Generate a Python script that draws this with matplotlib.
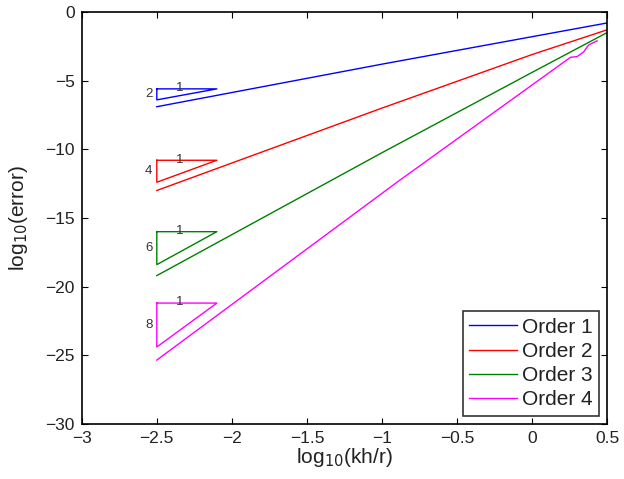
import numpy as np
import matplotlib
matplotlib.use('Agg')
import matplotlib.pyplot as plt

plt.rcParams['font.family'] = ['Liberation Sans', 'DejaVu Sans']

# log10(kh/r) sample points and log10(error) for each order
x1 = [-2.5, -1.0, 0.5]
err1 = [-6.9, -3.8, -0.8]
x2 = [-2.5, -1.0, 0.0, 0.5]
err2 = [-13.0, -7.0, -3.1, -1.3]
x3 = [-2.5, -1.0, 0.0, 0.5]
err3 = [-19.2, -10.25, -4.4, -1.5]
x4 = [-2.5, -0.9, 0.256, 0.30, 0.344, 0.377, 0.433]
err4 = [-25.35, -12.4, -3.3, -3.25, -2.9, -2.4, -2.1]

labels = ['Order 1', 'Order 2', 'Order 3', 'Order 4']
colors = ['#0000ff', '#ff0000', '#008000', '#ff00ff']

# slope triangles: rise per unit run, top edge level
orders = [2, 4, 6, 8]
tri_top = [-5.6, -10.8, -16.0, -21.2]
tri_x0 = -2.5
tri_run = 0.4

fig = plt.figure(figsize=(6.24, 4.79), dpi=100)
ax = fig.add_axes([0.131, 0.115, 0.842, 0.86])

for xs, ys, c, lab in zip([x1, x2, x3, x4], [err1, err2, err3, err4], colors, labels):
    ax.plot(xs, ys, color=c, lw=1, label=lab)

for p, top, c in zip(orders, tri_top, colors):
    bot = top - p * tri_run
    ax.plot([tri_x0, tri_x0 + tri_run, tri_x0, tri_x0], [top, top, bot, top], color=c, lw=1)
    ax.text(tri_x0 + 0.15, top + 0.05, '1', fontsize=9.5, ha='center', va='center', color='#333333')
    ax.text(tri_x0 - 0.03, (top + bot) / 2, str(p), fontsize=9.5, ha='right', va='center', color='#333333')

ax.set_xlim(-3, 0.5)
ax.set_ylim(-30, 0)
ax.set_xticks([-3, -2.5, -2, -1.5, -1, -0.5, 0, 0.5])
ax.set_xticklabels(['\u22123', '\u22122.5', '\u22122', '\u22121.5', '\u22121', '\u22120.5', '0', '0.5'])
ax.set_yticks([-30, -25, -20, -15, -10, -5, 0])
ax.set_yticklabels(['\u221230', '\u221225', '\u221220', '\u221215', '\u221210', '\u22125', '0'])
ax.tick_params(direction='in', length=4, labelsize=12.5, top=True, right=True, pad=5,
               labelcolor='#222222')
for s in ax.spines.values():
    s.set_linewidth(1.2)
ax.set_xlabel(r'log$_{10}$(kh/r)', fontsize=15, labelpad=0, color='#222222')
ax.set_ylabel(r'log$_{10}$(error)', fontsize=15, labelpad=11, color='#222222')

leg = ax.legend(loc='lower right', fontsize=15, fancybox=False, edgecolor='black',
                handlelength=2.3, borderaxespad=0.4, labelspacing=0.25, borderpad=0.3,
                handletextpad=0.25)
leg.get_frame().set_linewidth(1.2)
for t in leg.get_texts():
    t.set_color('#222222')

fig.savefig('out.png', dpi=100)
